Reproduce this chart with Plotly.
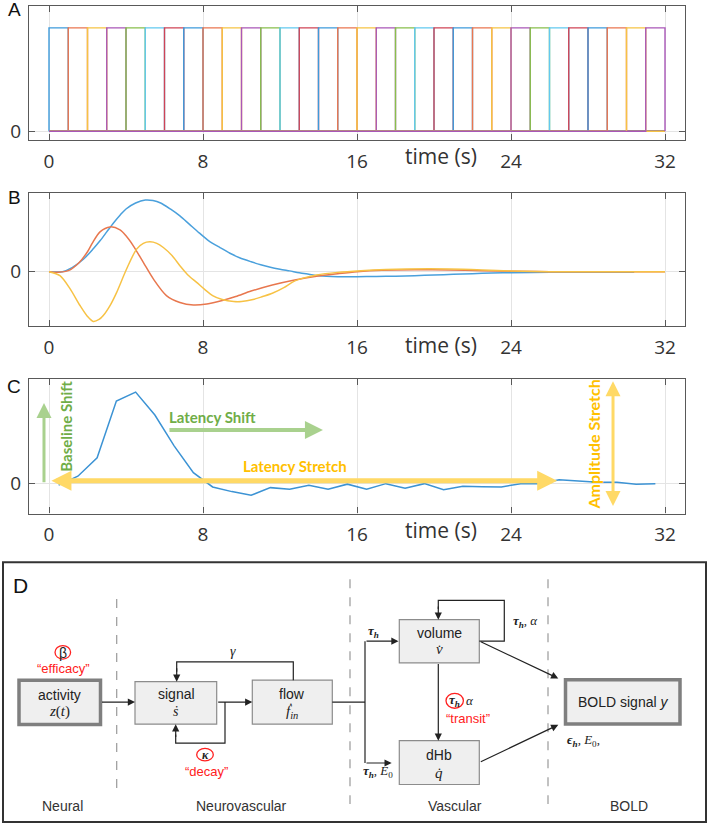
import plotly.graph_objects as go

W, H = 709, 828

# ---------------- data ----------------
time_ticks = [0, 8, 16, 24, 32]
time_ticktext = ["0", "8", "16", "24", "32"]

# Panel A: 1-s stimulus blocks, one trace per block
A_onsets = [0, 1, 2, 3, 4, 5, 6, 7, 8, 9, 10, 11, 12, 13, 14, 15,
            16, 17, 18, 19, 20, 21, 22, 23, 24, 25, 26, 27, 28, 29, 30, 31]
A_block = 1.0
A_end = 32.0
A_colors = ['#3E9BDB', '#EA7650', '#F6C344', '#A957B8', '#88BF4C', '#62C9EF', '#CF4456']

# Panel B: three basis functions
B_t_blue = [0, 0.7, 1.2, 1.8, 2.3, 2.65, 3.0, 3.35, 3.7, 4.0, 4.5, 5.0, 5.4, 5.8, 6.3, 6.8,
            7.3, 7.8, 8.3, 8.9, 9.4, 9.9, 10.5, 11.0, 11.5, 12.0, 12.5, 13.0, 13.5, 14.0,
            15.0, 16.0, 17.0, 18.0, 19.0, 20.0, 21.0, 22.0, 23.0, 24.0, 26.0, 28.0, 30.4]
B_v_blue = [0, 0, 0.04, 0.127, 0.23, 0.31, 0.40, 0.49, 0.57, 0.63, 0.69, 0.72, 0.715, 0.69,
            0.63, 0.56, 0.475, 0.39, 0.31, 0.24, 0.185, 0.14, 0.10, 0.07, 0.045, 0.025, 0.008,
            -0.01, -0.025, -0.04, -0.05, -0.05, -0.048, -0.045, -0.04, -0.033, -0.027, -0.02,
            -0.014, -0.01, -0.006, -0.005, -0.005]
B_t_orange = [0, 0.5, 1.0, 1.57, 2.0, 2.26, 2.65, 3.17, 3.69, 4.0, 4.38, 4.9, 5.42, 6.1, 6.8,
              7.5, 8.2, 9.0, 9.7, 10.5, 11.6, 12.7, 13.9, 15.0, 16.0, 17.3, 19.0, 20.8, 22.5,
              24.0, 26.0, 32.0]
B_v_orange = [0, -0.005, 0.01, 0.093, 0.2, 0.29, 0.40, 0.45, 0.42, 0.36, 0.26, 0.093, -0.073,
              -0.24, -0.31, -0.335, -0.325, -0.29, -0.25, -0.195, -0.133, -0.085, -0.045,
              -0.02, 0.0, 0.015, 0.02, 0.017, 0.01, 0.005, 0.0, 0.0]
B_t_yellow = [0, 0.57, 1.09, 1.61, 2.0, 2.3, 2.6, 2.82, 3.2, 3.51, 4.03, 4.55, 4.9, 5.24, 5.6,
              5.94, 6.4, 6.8, 7.2, 7.67, 8.1, 8.5, 9.0, 9.6, 10.0, 10.6, 11.1, 11.6, 12.2, 12.7,
              13.3, 13.9, 15.0, 16.2, 17.5, 18.6, 20.8, 22.5, 24.0, 26.0, 32.0]
B_v_yellow = [0, -0.04, -0.17, -0.34, -0.45, -0.5, -0.48, -0.44, -0.33, -0.21, 0.027, 0.227,
              0.285, 0.30, 0.285, 0.243, 0.16, 0.06, -0.03, -0.107, -0.18, -0.24, -0.28, -0.30,
              -0.30, -0.28, -0.25, -0.217, -0.16, -0.1, -0.06, -0.033, -0.007, 0.01, 0.022,
              0.027, 0.027, 0.018, 0.007, 0.0, 0.0]

# Panel C: example HRF sampled each second
C_t = [0.5, 1.5, 2.5, 3.5, 4.5, 5.5, 6.5, 7.5, 8.5, 9.5, 10.5, 11.5, 12.5, 13.5, 14.5, 15.5,
       16.5, 17.5, 18.5, 19.5, 20.5, 21.5, 22.5, 23.5, 24.5, 25.5, 26.5, 27.5, 28.5, 29.5,
       30.5, 31.5]
C_v = [-0.015, 0.075, 0.26, 0.83, 0.92, 0.69, 0.38, 0.11, -0.033, -0.08, -0.117, -0.04,
       -0.055, -0.015, -0.055, -0.005, -0.055, 0.0, -0.045, 0.0, -0.06, -0.025, -0.03, -0.033,
       0.0, 0.0, 0.04, 0.03, 0.015, 0.015, -0.005, 0.0]

# ---------------- helpers ----------------
def fx(p):
    return p / W


def fy(p):
    return 1 - p / H


TICKFONT = dict(family="Open Sans", size=19, color="#333333")
XDOM = [fx(29), fx(685)]
XRANGE = [(29 - 49) / 19.25, (685 - 49) / 19.25]


def xaxis_def(anchor):
    return dict(domain=XDOM, anchor=anchor, range=XRANGE, tickmode="array",
                tickvals=time_ticks, ticktext=time_ticktext, ticks="inside", ticklen=6,
                tickcolor="#595959", tickwidth=1, showline=True, linecolor="#595959",
                linewidth=1.3, mirror="ticks", showgrid=True, gridcolor="#e4e4e4",
                gridwidth=1, zeroline=False, tickfont=TICKFONT, ticklabelstandoff=4)


def yaxis_def(anchor, top, bottom, rng):
    return dict(domain=[fy(bottom), fy(top)], anchor=anchor, range=rng, tickmode="array",
                tickvals=[0], ticktext=["0"], ticks="inside", ticklen=6,
                tickcolor="#595959", tickwidth=1, showline=True, linecolor="#595959",
                linewidth=1.3, mirror="ticks", showgrid=True, gridcolor="#e4e4e4",
                gridwidth=1, zeroline=False, tickfont=TICKFONT, ticklabelstandoff=3)


fig = go.Figure()

# ---------------- Panel A ----------------
for i, on in enumerate(A_onsets):
    xs = [0, on, on, on + A_block, on + A_block, A_end]
    ys = [0, 0, 1, 1, 0, 0]
    fig.add_trace(go.Scatter(x=xs, y=ys, mode="lines", xaxis="x", yaxis="y",
                             line=dict(color=A_colors[i % len(A_colors)], width=1.4),
                             showlegend=False, hoverinfo="skip"))

# ---------------- Panel B ----------------
for tt, vv, col in [(B_t_blue, B_v_blue, '#4AA0DC'),
                    (B_t_orange, B_v_orange, '#E8774E'),
                    (B_t_yellow, B_v_yellow, '#F7C245')]:
    fig.add_trace(go.Scatter(x=tt, y=vv, mode="lines", xaxis="x2", yaxis="y2",
                             line=dict(color=col, width=1.5, shape="spline", smoothing=0.8),
                             showlegend=False, hoverinfo="skip"))

# ---------------- Panel C ----------------
fig.add_trace(go.Scatter(x=C_t, y=C_v, mode="lines", xaxis="x3", yaxis="y3",
                         line=dict(color='#3C93D4', width=1.5),
                         showlegend=False, hoverinfo="skip"))

annotations = []
shapes = []

# panel letters
for letter, (lx, ly, sz) in {"A": (15, 10, 19), "B": (15, 198, 19), "C": (14, 388, 19),
                             "D": (20, 588, 21)}.items():
    annotations.append(dict(text=letter, x=fx(lx), y=fy(ly), xref="paper", yref="paper",
                            showarrow=False, xanchor="center", yanchor="middle",
                            font=dict(family="Liberation Sans", size=sz, color="#111")))

# time (s) labels
for xr, ly in [("x", 157), ("x2", 347), ("x3", 533)]:
    annotations.append(dict(text="time (s)", x=20.35, y=fy(ly), xref=xr, yref="paper",
                            showarrow=False, xanchor="center", yanchor="middle",
                            font=dict(family="Open Sans", size=21, color="#333333")))

# Panel C arrows (data coordinates)
GREEN_A = '#A9D18E'
GREEN_T = '#70AD47'
GOLD_A = '#FFD966'
GOLD_T = '#FFC000'


def data_arrow(x0, y0, x1, y1, color, width, both=False, size=1.0):
    d = dict(x=x1, y=y1, ax=x0, ay=y0, xref="x3", yref="y3", axref="x3", ayref="y3",
             showarrow=True, arrowhead=2, arrowsize=size, arrowwidth=width,
             arrowcolor=color, text="", standoff=0, startstandoff=0)
    if both:
        d.update(arrowside="end+start", startarrowhead=2, startarrowsize=size)
    annotations.append(d)


data_arrow(-0.26, 0.0, -0.26, 0.81, GREEN_A, 3)
data_arrow(6.18, 0.54, 14.23, 0.54, GREEN_A, 4, size=0.9)
data_arrow(0.05, 0.03, 26.4, 0.03, GOLD_A, 5, both=True, size=0.8)
data_arrow(29.3, -0.24, 29.3, 1.03, GOLD_A, 3, both=True)

for txt, x, y, col, ang, sz in [("Latency Shift", 8.47, 0.67, GREEN_T, 0, 15),
                                ("Latency Stretch", 12.8, 0.18, GOLD_T, 0, 15),
                                ("Baseline Shift", 0.87, 0.58, GREEN_T, -90, 15),
                                ("Amplitude Stretch", 28.3, 0.39, GOLD_T, -90, 16)]:
    annotations.append(dict(text="<b>%s</b>" % txt, x=x, y=y, xref="x3", yref="y3",
                            showarrow=False, textangle=ang, xanchor="center",
                            yanchor="middle", font=dict(family="Lato", size=sz, color=col)))

# ---------------- Panel D (diagram, pixel layout) ----------------
LINE = '#222222'


def rect(x0, y0, x1, y1, lc, lw, fill):
    shapes.append(dict(type="rect", xref="paper", yref="paper", x0=fx(x0), x1=fx(x1),
                       y0=fy(y1), y1=fy(y0), line=dict(color=lc, width=lw), fillcolor=fill,
                       layer="above"))


def polyline(pts, color=LINE, width=1.2, dash=None):
    path = "M " + " L ".join("%.5f,%.5f" % (fx(a), fy(b)) for a, b in pts)
    ln = dict(color=color, width=width)
    if dash:
        ln["dash"] = dash
    shapes.append(dict(type="path", xref="paper", yref="paper", path=path, line=ln,
                       layer="above"))


def arrow(x0, y0, x1, y1, color=LINE, width=1.2):
    annotations.append(dict(x=fx(x1), y=fy(y1), xref="paper", yref="paper",
                            ax=x0 - x1, ay=y0 - y1, axref="pixel", ayref="pixel",
                            showarrow=True, arrowhead=2, arrowsize=1.2, arrowwidth=width,
                            arrowcolor=color, text="", standoff=0))


def text(t, x, y, size=13, color="#222", family="Liberation Sans"):
    annotations.append(dict(text=t, x=fx(x), y=fy(y), xref="paper", yref="paper",
                            showarrow=False, xanchor="center", yanchor="middle",
                            font=dict(family=family, size=size, color=color)))


def ellipse(cx, cy, rx, ry, color="#FF2020"):
    shapes.append(dict(type="circle", xref="paper", yref="paper", x0=fx(cx - rx),
                       x1=fx(cx + rx), y0=fy(cy + ry), y1=fy(cy - ry),
                       line=dict(color=color, width=1.3), layer="above"))


# outer frame
rect(3, 565, 706, 826, '#333333', 2, 'rgba(0,0,0,0)')

# dashed separators
polyline([(116.7, 602), (116.7, 793)], color='#9a9a9a', width=1.2, dash="dash")
polyline([(350, 582), (350, 808)], color='#9a9a9a', width=1.2, dash="dash")
polyline([(548, 582), (548, 808)], color='#9a9a9a', width=1.2, dash="dash")

# boxes
BOXF = '#EFEFEF'
rect(19, 683.5, 100.5, 728, '#7f7f7f', 3.5, BOXF)          # activity
rect(135, 685, 216.7, 727.7, '#8c8c8c', 1.2, BOXF)         # signal
rect(252.3, 683.5, 332.3, 727.7, '#8c8c8c', 1.2, BOXF)     # flow
rect(399.3, 622.7, 479.3, 666, '#8c8c8c', 1.2, BOXF)       # volume
rect(399.3, 744.3, 479.3, 788.3, '#8c8c8c', 1.2, BOXF)     # dHb
rect(565.5, 683, 680, 727.5, '#7f7f7f', 3.5, BOXF)         # BOLD

# connections
arrow(100.5, 705.5, 135, 705.5)
arrow(216.7, 705.5, 252.3, 705.5)
polyline([(293.3, 683.5), (293.3, 665), (176.7, 665), (176.7, 675)])
arrow(176.7, 670, 176.7, 685)
polyline([(225, 705.5), (225, 746.7), (175.7, 746.7), (175.7, 738)])
arrow(175.7, 742, 175.7, 727.7)
polyline([(332.3, 705.5), (365, 705.5)])
polyline([(365, 644.3), (365, 766.7)])
arrow(365, 644.3, 398.5, 644.3)
arrow(365, 766.7, 391.7, 766.7)
polyline([(479.3, 644.3), (504.3, 644.3), (504.3, 603.3), (438.3, 603.3), (438.3, 612)])
arrow(438.3, 608, 438.3, 622.7)
arrow(438.3, 666, 438.3, 744.3)
arrow(479.3, 644.3, 558.3, 681.7)
arrow(479.3, 766, 558.3, 728.3)

# box texts
SERIF = "Liberation Serif"
text("activity", 59.7, 698.5, 14)
text("<i>z</i>(<i>t</i>)", 59.7, 715, 15, family=SERIF)
text("signal", 176, 697.5, 14)
text("<i>\u1e61</i>", 176, 715, 14, family=SERIF)
text("flow", 292.3, 697, 14)
text("<i>\u1e1f<sub>in</sub></i>", 292.3, 715.5, 15, family=SERIF)
text("volume", 439.3, 636, 14)
text("<i>v\u0307</i>", 439.3, 652.5, 15, family=SERIF)
text("dHb", 439.3, 759, 14)
text("<i>q\u0307</i>", 439.3, 776.5, 15, family=SERIF)
text("BOLD signal <i>y</i>", 622.7, 705.5, 14)

# parameters
RED = '#FF2020'
text("\u03b2", 62.8, 656, 14, color="#222")
ellipse(62.8, 655.5, 7.8, 6.8)
text("\u201cefficacy\u201d", 63.3, 671.5, 13, color=RED)
text("<i>\u03b3</i>", 233.3, 655, 14, family=SERIF)
text("<b><i>\u03ba</i></b>", 205, 758.3, 12, family=SERIF)
ellipse(205, 758.3, 8.3, 6.3)
text("\u201cdecay\u201d", 206.7, 775.5, 13, color=RED)
text("<b><i>\u03c4<sub>h</sub></i></b>", 373.3, 635, 13, family=SERIF)
text("<b><i>\u03c4<sub>h</sub></i></b>, <i>E</i><sub>0</sub>", 378, 775.5, 13, family=SERIF)
text("<b><i>\u03c4<sub>h</sub></i></b>, <i>\u03b1</i>", 525, 625, 13, family=SERIF)
text("<b><i>\u03c4<sub>h</sub></i></b>", 454.7, 704, 13, family=SERIF)
ellipse(454.7, 704.2, 8.7, 7.5)
text("<i>\u03b1</i>", 469.5, 703.5, 13, family=SERIF)
text("\u201ctransit\u201d", 468.3, 722, 13, color=RED)
text("<b><i>\u03f5<sub>h</sub></i></b>, <i>E</i><sub>0</sub>,", 583, 744.5, 13, family=SERIF)

# stage labels
for lab, x in [("Neural", 62.7), ("Neurovascular", 241.7), ("Vascular", 455), ("BOLD", 628.7)]:
    text(lab, x, 810, 14, color="#333")

fig.update_layout(
    width=W, height=H, margin=dict(l=0, r=0, t=0, b=0),
    paper_bgcolor="white", plot_bgcolor="white", showlegend=False,
    xaxis=xaxis_def("y"), yaxis=yaxis_def("x", 6, 141, [-9 / 104, 126 / 104]),
    xaxis2=xaxis_def("y2"), yaxis2=yaxis_def("x2", 194, 328, [-0.55, 0.79]),
    xaxis3=xaxis_def("y3"), yaxis3=yaxis_def("x3", 381, 516, [-0.30, 1.05]),
    annotations=annotations, shapes=shapes,
)

fig.write_html("out.html", config={"displayModeBar": False},
               post_script="document.body.style.margin='0';document.body.style.padding='0';"
                           "document.body.style.overflow='hidden';")
